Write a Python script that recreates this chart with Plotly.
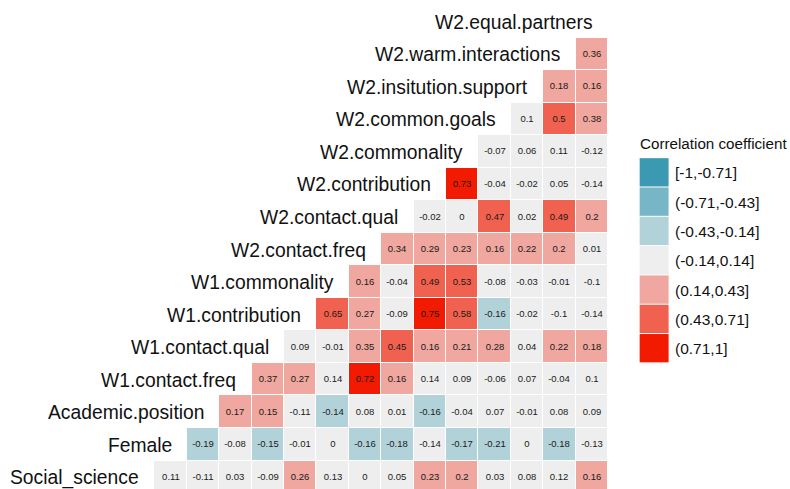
import plotly.graph_objects as go

variables = ["Social_science", "Female", "Academic.position", "W1.contact.freq",
             "W1.contact.qual", "W1.contribution", "W1.commonality", "W2.contact.freq",
             "W2.contact.qual", "W2.contribution", "W2.commonality", "W2.common.goals",
             "W2.insitution.support", "W2.warm.interactions", "W2.equal.partners"]

# correlations of each variable with the variables listed after it
r_social_science = [0.11, -0.11, 0.03, -0.09, 0.26, 0.13, 0, 0.05, 0.23, 0.2, 0.03, 0.08, 0.12, 0.16]
r_female = [-0.19, -0.08, -0.15, -0.01, 0, -0.16, -0.18, -0.14, -0.17, -0.21, 0, -0.18, -0.13]
r_academic_position = [0.17, 0.15, -0.11, -0.144, 0.08, 0.01, -0.16, -0.04, 0.07, -0.01, 0.08, 0.09]
r_w1_contact_freq = [0.37, 0.27, 0.14, 0.72, 0.16, 0.14, 0.09, -0.06, 0.07, -0.04, 0.1]
r_w1_contact_qual = [0.09, -0.01, 0.35, 0.45, 0.16, 0.21, 0.28, 0.04, 0.22, 0.18]
r_w1_contribution = [0.65, 0.27, -0.09, 0.75, 0.58, -0.16, -0.02, -0.1, -0.14]
r_w1_commonality = [0.16, -0.04, 0.49, 0.53, -0.08, -0.03, -0.01, -0.1]
r_w2_contact_freq = [0.34, 0.29, 0.23, 0.16, 0.22, 0.2, 0.01]
r_w2_contact_qual = [-0.02, 0, 0.47, 0.02, 0.49, 0.2]
r_w2_contribution = [0.73, -0.04, -0.02, 0.05, -0.14]
r_w2_commonality = [-0.07, 0.06, 0.11, -0.12]
r_w2_common_goals = [0.1, 0.5, 0.38]
r_w2_insitution_support = [0.18, 0.16]
r_w2_warm_interactions = [0.36]

rows = [r_social_science, r_female, r_academic_position, r_w1_contact_freq,
        r_w1_contact_qual, r_w1_contribution, r_w1_commonality, r_w2_contact_freq,
        r_w2_contact_qual, r_w2_contribution, r_w2_commonality, r_w2_common_goals,
        r_w2_insitution_support, r_w2_warm_interactions]

bin_labels = ["[-1,-0.71]", "(-0.71,-0.43]", "(-0.43,-0.14]", "(-0.14,0.14]",
              "(0.14,0.43]", "(0.43,0.71]", "(0.71,1]"]
bin_colors = ["#3B9AB2", "#77B6C6", "#B2D2DA", "#EEEEEE", "#EFA79F", "#F1614F", "#F21A00"]

n = len(variables)


def fmt(v):
    s = f"{v:.2f}".rstrip("0").rstrip(".")
    return "0" if s in ("-0", "") else s


z = [[None] * n for _ in range(n)]
txt = [[""] * n for _ in range(n)]
for i, row in enumerate(rows):
    for k, v in enumerate(row):
        j = i + 1 + k
        z[i][j] = v
        txt[i][j] = fmt(v)

nb = len(bin_colors)
colorscale = []
for k, c in enumerate(bin_colors):
    colorscale.append([k / nb, c])
    colorscale.append([(k + 1) / nb, c])

FONT = "Liberation Sans, Arial, sans-serif"

fig = go.Figure()
fig.add_trace(go.Heatmap(
    z=z, x=list(range(n)), y=list(range(n)), text=txt,
    texttemplate="%{text}", textfont=dict(size=9.5, color="#1a1a1a", family=FONT),
    colorscale=colorscale, zmin=-1, zmax=1, showscale=False,
    xgap=1, ygap=1, hoverinfo="skip",
))

# variable labels on the diagonal
for i, name in enumerate(variables):
    fig.add_annotation(x=i, y=i, text=name, showarrow=False, xanchor="right",
                       yanchor="middle", xshift=3, yshift=-1,
                       font=dict(size=19.3, color="#111111", family=FONT))

# plot area geometry (pixels)
L, R, T, B = 121.5, 608.3, 5.2, 489.0
W, H = R - L, B - T


def px_x(p):
    return (p - L) / W


def px_y(p):
    return (B - p) / H


# legend
fig.add_annotation(xref="paper", yref="paper", x=px_x(638.5), y=px_y(144),
                   text="Correlation coefficient", showarrow=False,
                   xanchor="left", yanchor="middle",
                   font=dict(size=15.2, color="#111111", family=FONT))
top0, step = 158.3, 29.3
for k, (lab, col) in enumerate(zip(bin_labels, bin_colors)):
    y0 = top0 + k * step
    fig.add_shape(type="rect", xref="paper", yref="paper",
                  x0=px_x(640), x1=px_x(669), y0=px_y(y0), y1=px_y(y0 + step - 1),
                  fillcolor=col, line=dict(width=0), layer="above")
    fig.add_annotation(xref="paper", yref="paper", x=px_x(673.5), y=px_y(y0 + step / 2),
                       text=lab, showarrow=False, xanchor="left", yanchor="middle",
                       font=dict(size=15.5, color="#111111", family=FONT))

fig.update_layout(
    width=790, height=489,
    margin=dict(l=L, r=790 - R, t=T, b=0, pad=0),
    plot_bgcolor="white", paper_bgcolor="white",
    xaxis=dict(range=[-0.5, n - 0.5], visible=False, fixedrange=True),
    yaxis=dict(range=[-0.5 + (493.1 - 489) / 32.52, n - 0.5], visible=False, fixedrange=True),
    showlegend=False,
)

fig.write_html("out.html", config={"displayModeBar": False},
               post_script="document.body.style.margin='0';document.body.style.overflow='hidden';")
